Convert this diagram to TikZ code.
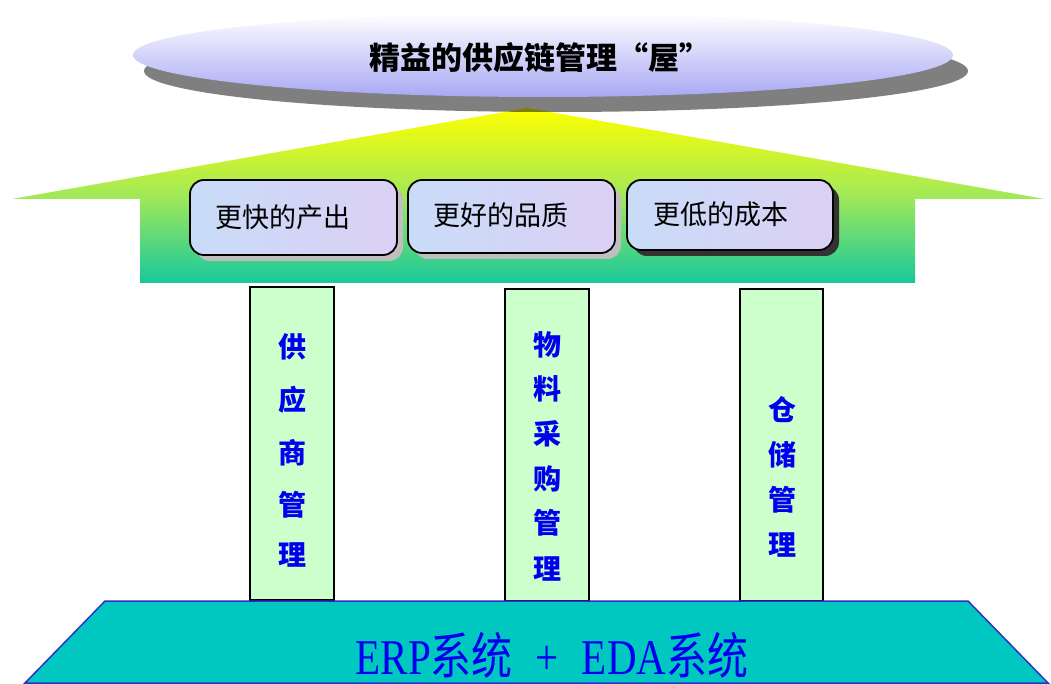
\documentclass[tikz,border=0pt]{standalone}
\usepackage{fontspec}
\setmainfont{Liberation Serif}
\newfontfamily\cjk{Noto Sans CJK SC}
\usetikzlibrary{shapes.geometric}
\definecolor{lav}{HTML}{A8A8F4}
\definecolor{arrowtop}{HTML}{FFFF00}
\definecolor{arrowbot}{HTML}{18C89C}
\definecolor{boxa}{HTML}{C8DCF8}
\definecolor{boxb}{HTML}{DCD0F4}
\definecolor{pillarfill}{HTML}{CCFFCC}
\definecolor{basefill}{HTML}{00C8C0}
\definecolor{baseline}{HTML}{3030C8}
\definecolor{txtblue}{HTML}{0000EE}
\tikzset{
  goalbox/.style={draw=black, line width=1.8pt, rounded corners=14pt,
    left color=boxa, right color=boxb, inner sep=0pt},
  goaltext/.style={inner sep=0pt, font=\cjk\fontsize{27}{30}\selectfont},
  goalshadow/.style={fill=black!25, rounded corners=14pt},
  pillar/.style={draw=black, line width=1.2pt, fill=pillarfill},
  pillartext/.style={text=txtblue, font=\cjk\bfseries\fontsize{28}{30}\selectfont, inner sep=0pt}
}
\begin{document}
\begin{tikzpicture}[x=1pt,y=-1pt]
\useasboundingbox (0,0) rectangle (1051,684);
% roof arrow
\shade[top color=arrowtop, bottom color=arrowbot, middle color=arrowtop!55!arrowbot!90!white]
  (527,108) -- (1045,199) -- (915,199) -- (915,283) -- (140,283) -- (140,199) -- (12,199) -- cycle;
% ellipse and shadow
\fill[black, opacity=0.5] (556,71) ellipse [x radius=412, y radius=41];
\shade[top color=white, bottom color=lav] (543,55) ellipse [x radius=410, y radius=42];
\node[font=\cjk\bfseries\fontsize{31}{34}\selectfont, inner sep=0pt] (title) at (540,58) {精益的供应链管理“屋”};
% goal boxes
\fill[goalshadow] (196,186) rectangle (403,261);
\fill[goalshadow] (414,186) rectangle (621,259);
\fill[black!80, rounded corners=14pt] (633,186) rectangle (839,256);
\draw[goalbox] (190,180) rectangle (397,255);
\draw[goalbox] (408,180) rectangle (615,253);
\draw[goalbox] (627,180) rectangle (833,250);
\node[goaltext] (g1) at (283,217) {更快的产出};
\node[goaltext] (g2) at (501,215) {更好的品质};
\node[goaltext] (g3) at (721,214) {更低的成本};
% pillars
\draw[pillar] (250,287) rectangle (334,600);
\draw[pillar] (505,289) rectangle (589,601);
\draw[pillar] (740,289) rectangle (823,601);
\node[pillartext] (p1a) at (292,347) {供};
\node[pillartext] (p1b) at (292,400) {应};
\node[pillartext] (p1c) at (292,453) {商};
\node[pillartext] (p1d) at (292,505) {管};
\node[pillartext] (p1e) at (292,555) {理};
\node[pillartext] (p2a) at (547,345) {物};
\node[pillartext] (p2b) at (547,389) {料};
\node[pillartext] (p2c) at (547,434) {采};
\node[pillartext] (p2d) at (547,479) {购};
\node[pillartext] (p2e) at (547,523) {管};
\node[pillartext] (p2f) at (547,569) {理};
\node[pillartext] (p3a) at (782,410) {仓};
\node[pillartext] (p3b) at (782,455) {储};
\node[pillartext] (p3c) at (782,500) {管};
\node[pillartext] (p3d) at (782,545) {理};
% base
\draw[fill=basefill, draw=baseline, line width=1.5pt] (105,601) -- (968,601) -- (1048,683) -- (25,683) -- cycle;
\node[text=txtblue, inner sep=0pt] (base) at (552,655)
  {\scalebox{0.82}[1]{\fontsize{50}{52}\selectfont ERP{\cjk 系统}\hspace{28pt}+\hspace{28pt}EDA{\cjk 系统}}};
\end{tikzpicture}
\end{document}
